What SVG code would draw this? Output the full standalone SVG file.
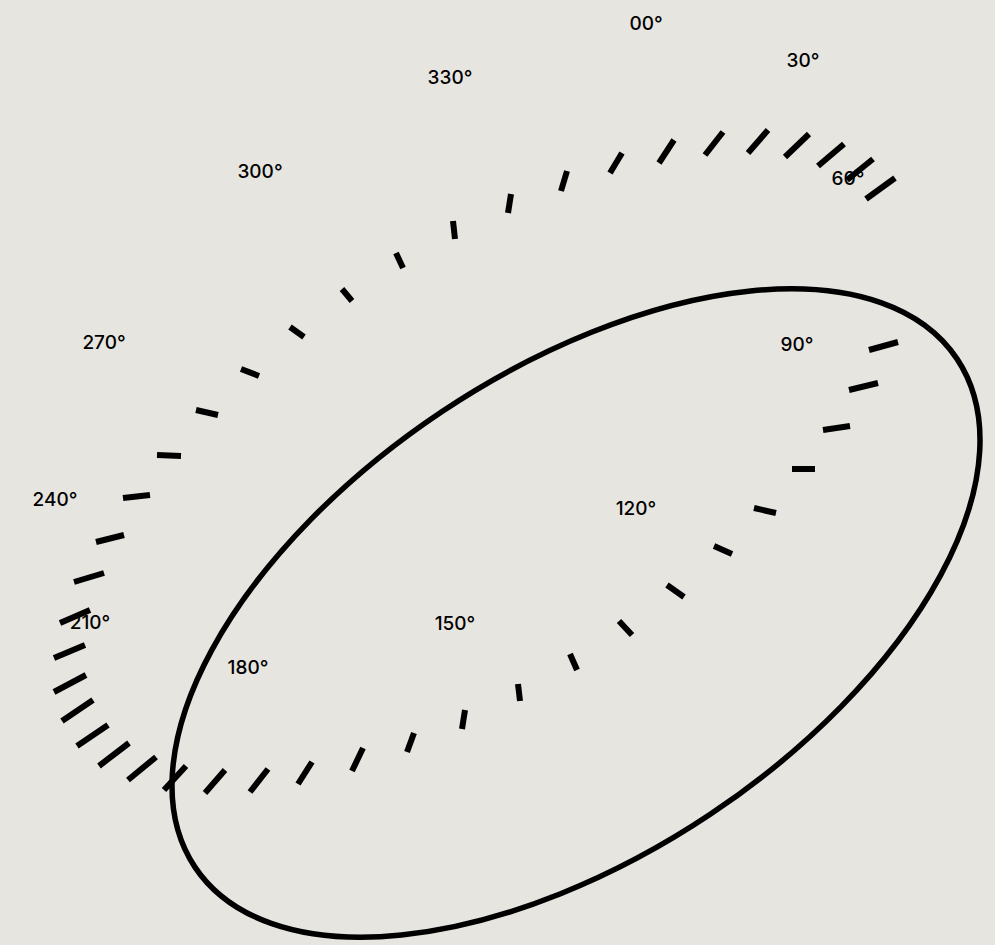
<svg xmlns="http://www.w3.org/2000/svg" width="995" height="945" viewBox="0 0 995 945">
<style>
.t{stroke:#000;stroke-width:6;fill:none}
.l{font-family:Inter,"Liberation Sans",sans-serif;font-size:19px;font-weight:500;fill:#000;text-anchor:middle}
</style>
<rect width="995" height="945" fill="#e7e5df"/>
<g id="ticks" class="t">
<line x1="610" y1="173" x2="622" y2="153"/>
<line x1="659" y1="163" x2="674" y2="140"/>
<line x1="705" y1="155" x2="723" y2="132"/>
<line x1="748" y1="153" x2="768" y2="130"/>
<line x1="785" y1="157" x2="809" y2="134"/>
<line x1="818" y1="166" x2="844" y2="144"/>
<line x1="847" y1="180" x2="873" y2="159"/>
<line x1="866" y1="199" x2="895" y2="178"/>
<line x1="561" y1="191" x2="567" y2="171"/>
<line x1="508" y1="213" x2="511" y2="194"/>
<line x1="455" y1="239" x2="453" y2="221"/>
<line x1="403" y1="268" x2="396" y2="253"/>
<line x1="352" y1="301" x2="342" y2="289"/>
<line x1="304" y1="337" x2="290" y2="327"/>
<line x1="259" y1="376" x2="241" y2="369"/>
<line x1="218" y1="415" x2="196" y2="410"/>
<line x1="181" y1="456" x2="157" y2="455"/>
<line x1="150" y1="495" x2="123" y2="498"/>
<line x1="124" y1="535" x2="96" y2="542"/>
<line x1="104" y1="573" x2="74" y2="582"/>
<line x1="90" y1="610" x2="60" y2="623"/>
<line x1="85" y1="645" x2="54" y2="658"/>
<line x1="86" y1="675" x2="54" y2="692"/>
<line x1="93" y1="700" x2="62" y2="721"/>
<line x1="108" y1="725" x2="77" y2="746"/>
<line x1="129" y1="743" x2="99" y2="766"/>
<line x1="156" y1="757" x2="128" y2="780"/>
<line x1="186" y1="766" x2="164" y2="790"/>
<line x1="225" y1="770" x2="205" y2="793"/>
<line x1="268" y1="769" x2="250" y2="792"/>
<line x1="312" y1="762" x2="298" y2="784"/>
<line x1="363" y1="748" x2="352" y2="771"/>
<line x1="414" y1="733" x2="407" y2="752"/>
<line x1="465" y1="710" x2="462" y2="729"/>
<line x1="518" y1="684" x2="520" y2="701"/>
<line x1="570" y1="654" x2="577" y2="670"/>
<line x1="619" y1="621" x2="632" y2="635"/>
<line x1="667" y1="585" x2="684" y2="597"/>
<line x1="714" y1="546" x2="732" y2="554"/>
<line x1="754" y1="508" x2="776" y2="513"/>
<line x1="792" y1="469" x2="815" y2="469"/>
<line x1="823" y1="430" x2="850" y2="426"/>
<line x1="849" y1="390" x2="878" y2="383"/>
<line x1="869" y1="350" x2="898" y2="342"/>
</g>
<g id="ellipse">
<ellipse cx="576" cy="613" rx="458" ry="242" transform="rotate(-33.7 576 613)" fill="none" stroke="#000" stroke-width="5.5"/>
</g>
<g id="labels" class="l">
<text x="646" y="30">00°</text>
<text x="803" y="67">30°</text>
<text x="450" y="84">330°</text>
<text x="260" y="178">300°</text>
<text x="848" y="185">60°</text>
<text x="104" y="349">270°</text>
<text x="797" y="351">90°</text>
<text x="55" y="506">240°</text>
<text x="636" y="515">120°</text>
<text x="90" y="629">210°</text>
<text x="455" y="630">150°</text>
<text x="248" y="674">180°</text>
</g>
</svg>
